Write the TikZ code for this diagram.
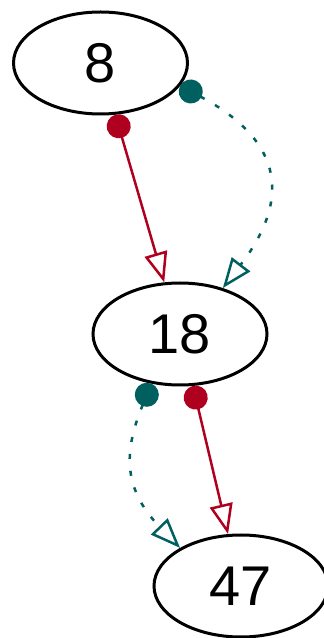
\documentclass[tikz,border=0pt]{standalone}
\usepackage{fontspec}
\setmainfont{Liberation Sans}
\usetikzlibrary{arrows.meta, shapes.geometric}
\definecolor{crimson}{HTML}{B00020}
\definecolor{deepteal}{HTML}{005F5F}

\begin{document}
\begin{tikzpicture}[x=1pt, y=1pt,
  keynode/.style={draw, ellipse, line width=3pt, minimum width=174pt, minimum height=102pt, inner sep=0pt, font=\fontsize{56}{56}\selectfont},
  solidlink/.style={crimson, line width=2.5pt, {Circle[length=24pt]}-{Triangle[open, length=30pt, width=23pt]}},
  dottedlink/.style={deepteal, line width=2.5pt, dash pattern=on 5pt off 12pt, {Circle[length=24pt]}-{Triangle[open, length=30pt, width=23pt]}}
]

\useasboundingbox (0,0) rectangle (324,638);

% Keys
\node[keynode] (k8) at (100.5,575) {8};
\node[keynode] (k18) at (180,304) {18};
\node[keynode] (k47) at (241,52) {47};

% Solid links
\draw[solidlink] (k8.-74) -- (k18.107);
\draw[solidlink] (k18.-76) -- (k47.104);

% Dotted links
\draw[dottedlink] (k8.-16) .. controls (266,506.5) and (302,453.4) .. (k18.47);
\draw[dottedlink] (k18.-120) .. controls (125,189.6) and (120.8,151.4) .. (k47.148);

\end{tikzpicture}
\end{document}
